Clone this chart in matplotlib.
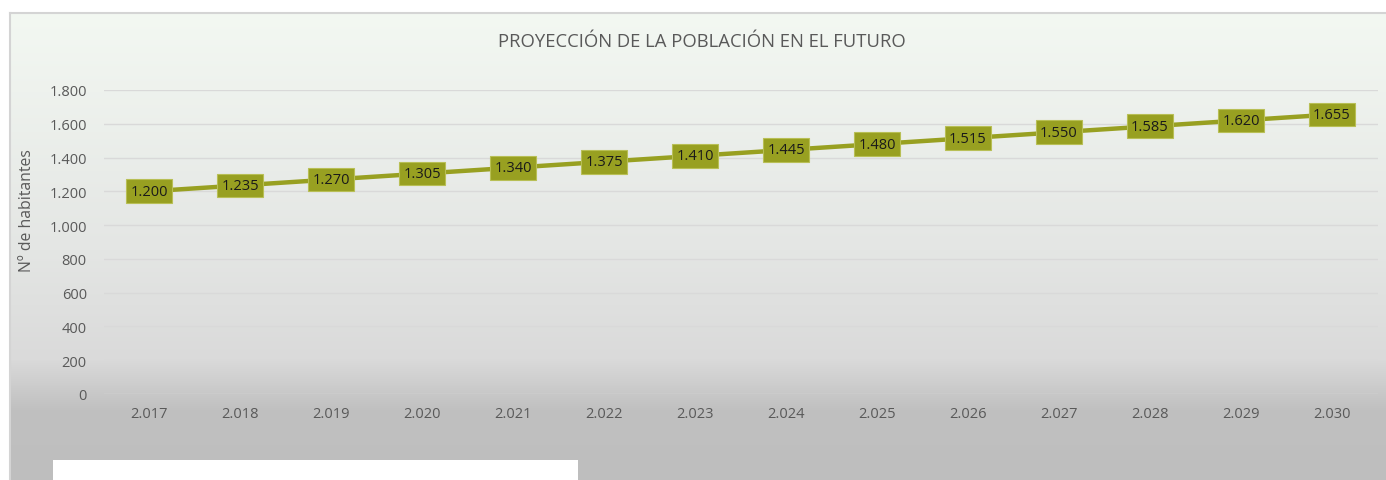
import numpy as np
import matplotlib.pyplot as plt
from matplotlib.patches import Rectangle

# Data
years = ['2.017', '2.018', '2.019', '2.020', '2.021', '2.022', '2.023',
         '2.024', '2.025', '2.026', '2.027', '2.028', '2.029', '2.030']
habitantes = [1200, 1235, 1270, 1305, 1340, 1375, 1410,
              1445, 1480, 1515, 1550, 1585, 1620, 1655]
y_ticks = [0, 200, 400, 600, 800, 1000, 1200, 1400, 1600, 1800]

W, H = 1386, 481
plt.rcParams['font.family'] = ['Open Sans', 'DejaVu Sans']
fig = plt.figure(figsize=(W / 100, H / 100), dpi=100)
fig.patch.set_facecolor('white')

# gradient panel background
bg = fig.add_axes([10 / W, 0, 1 - 10 / W, (H - 14) / H])
stops_y = [14, 250, 360, 410, 481]
stops_c = np.array([[243, 248, 242], [228, 230, 228], [218, 218, 218],
                    [192, 192, 192], [190, 190, 190]]) / 255
rows = np.arange(14, 481)
grad = np.stack([np.interp(rows, stops_y, stops_c[:, k]) for k in range(3)], axis=1)
bg.imshow(grad[:, None, :], aspect='auto', extent=[0, 1, 0, 1])
bg.set_xticks([])
bg.set_yticks([])
for side in ['right', 'bottom']:
    bg.spines[side].set_visible(False)
for side in ['top', 'left']:
    bg.spines[side].set_color('#d4d4d4')
    bg.spines[side].set_linewidth(1.5)

# white box at the bottom left
fig.patches.append(Rectangle((53 / W, 0), (578 - 53) / W, (H - 461) / H,
                             transform=fig.transFigure, facecolor='white',
                             edgecolor='none', zorder=5))

ax = fig.add_axes([103.5 / W, (H - 395) / H, (1377.5 - 103.5) / W, (395 - 91) / H])
ax.patch.set_alpha(0)
x = np.arange(len(years))
ax.plot(x, habitantes, color='#98a021', lw=3.2, zorder=3)
for xi, v in zip(x, habitantes):
    ax.text(xi, v, f'{v / 1000:.3f}', ha='center', va='center', fontsize=10.5,
            color='#1a1a1a', zorder=4,
            bbox=dict(boxstyle='square,pad=0.3', facecolor='#98a021',
                      edgecolor='#b8bf55', linewidth=0.8))

ax.set_xlim(-0.5, len(years) - 0.5)
ax.set_ylim(0, 1800)
ax.set_yticks(y_ticks)
ax.set_yticklabels([f'{t:,}'.replace(',', '.') for t in y_ticks])
ax.set_xticks(x)
ax.set_xticklabels(years)
ax.tick_params(length=0, labelsize=10.5, labelcolor='#595959')
ax.tick_params(axis='y', pad=12)
ax.tick_params(axis='x', pad=9)
ax.grid(axis='y', color='#d9d9d9', lw=1)
ax.set_axisbelow(True)
for s in ax.spines.values():
    s.set_visible(False)

fig.text(27 / W, 1 - 211 / H, 'Nº de habitantes', rotation=90,
         ha='center', va='center', fontsize=11.3, color='#595959')
fig.text(702 / W, 1 - 42 / H, 'PROYECCIÓN DE LA POBLACIÓN EN EL FUTURO',
         ha='center', va='center', fontsize=13.3, color='#595959')

fig.savefig('out.png', dpi=100)
